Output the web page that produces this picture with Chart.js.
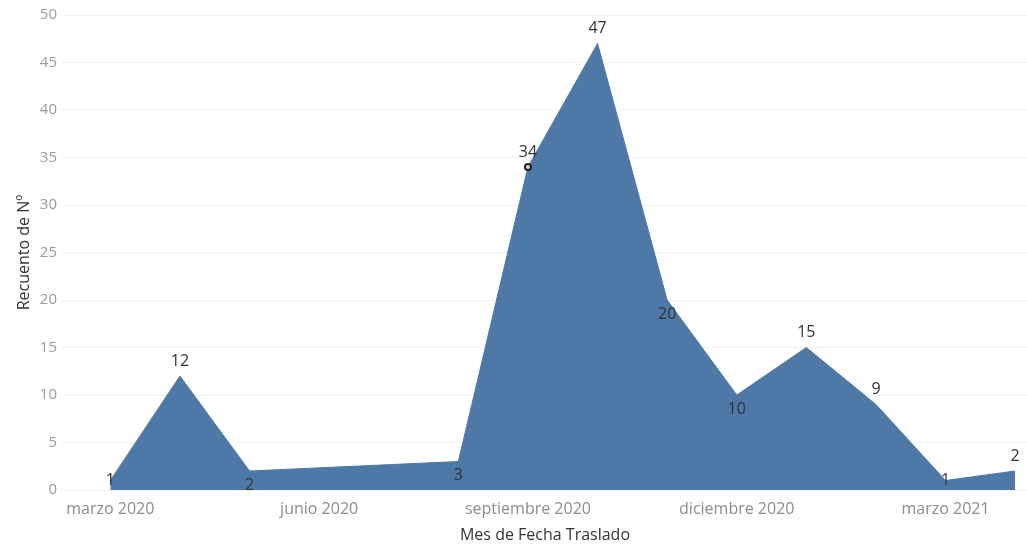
<!DOCTYPE html>
<html>
<head>
<meta charset="utf-8">
<script src="https://cdn.jsdelivr.net/npm/chart.js@4"></script>
<style>
  html, body { margin: 0; padding: 0; background: #fff; }
  #wrap { width: 1027px; height: 545px; }
</style>
</head>
<body>
<div id="wrap"><canvas id="myChart"></canvas></div>
<script>
const months = ['marzo 2020', 'abril 2020', 'mayo 2020', 'junio 2020', 'julio 2020', 'agosto 2020',
  'septiembre 2020', 'octubre 2020', 'noviembre 2020', 'diciembre 2020', 'enero 2021',
  'febrero 2021', 'marzo 2021', 'abril 2021'];
const counts = [1, 12, 2, null, null, 3, 34, 47, 20, 10, 15, 9, 1, 2];
const tickMonths = ['marzo 2020', 'junio 2020', 'septiembre 2020', 'diciembre 2020', 'marzo 2021'];
const yTicks = [0, 5, 10, 15, 20, 25, 30, 35, 40, 45, 50];
// where each value label sits: c = on the point, a = above, b = below
const labelPos = ['c', 'a', 'b', null, null, 'b', 'a', 'a', 'b', 'b', 'a', 'a', 'c', 'a'];

const FONT = "'Open Sans', 'DejaVu Sans', sans-serif";

const points = [];
const pos = [];
const radius = [];
months.forEach(function(m, i){
  if(counts[i] === null) return;
  points.push({x: i, y: counts[i]});
  pos.push(labelPos[i]);
  radius.push(m == 'septiembre 2020' ? 3 : 0);
});

const valueLabels = {
  id: 'valueLabels',
  afterDatasetsDraw: function(chart){
    const ctx = chart.ctx;
    const meta = chart.getDatasetMeta(0);
    ctx.save();
    ctx.font = '16px ' + FONT;
    ctx.fillStyle = '#333';
    ctx.textAlign = 'center';
    ctx.textBaseline = 'middle';
    meta.data.forEach(function(el, i){
      let dy = 0;
      if(pos[i] == 'a') dy = -15;
      if(pos[i] == 'b') dy = 14;
      ctx.fillText(String(points[i].y), el.x, el.y + dy);
    });
    ctx.restore();
  }
};

const ctx = document.getElementById('myChart').getContext('2d');
// eslint-disable-next-line no-undef
const chart = new Chart(ctx, {
  type: 'line',
  data: {
    datasets: [{
      label: 'Recuento de Nº',
      data: points,
      backgroundColor: '#4e78a6',
      borderColor: '#4e78a6',
      borderWidth: 1,
      fill: 'origin',
      tension: 0,
      pointRadius: radius,
      pointBackgroundColor: '#ddd',
      pointBorderColor: '#222',
      pointBorderWidth: 2,
    }]
  },
  options: {
    responsive: true,
    maintainAspectRatio: false,
    animation: false,
    layout: { padding: { left: 15, top: 15, right: 0, bottom: 0 } },
    plugins: {
      legend: { display: false },
      tooltip: { enabled: false },
    },
    scales: {
      x: {
        type: 'linear',
        min: -0.68,
        max: 13.17,
        grid: { display: false },
        border: { display: false },
        afterBuildTicks: function(scale){
          scale.ticks = tickMonths.map(function(m){ return {value: months.indexOf(m)}; });
        },
        afterFit: function(scale){ scale.height = 55; },
        ticks: {
          autoSkip: false,
          maxRotation: 0,
          padding: 2,
          color: '#8c8c8c',
          font: { family: FONT, size: 16 },
          callback: function(v){ return months[v]; },
        },
        title: {
          display: true,
          text: 'Mes de Fecha Traslado',
          color: '#333',
          font: { family: FONT, size: 16 },
          padding: { top: 2, bottom: 0 },
        },
      },
      y: {
        min: 0,
        max: 50,
        grid: { color: '#f1f1f1', drawTicks: false },
        border: { display: false },
        afterBuildTicks: function(scale){
          scale.ticks = yTicks.map(function(v){ return {value: v}; });
        },
        afterFit: function(scale){ scale.width = 48; },
        ticks: {
          padding: 6,
          color: '#9a9a9a',
          font: { family: FONT, size: 15 },
        },
        title: {
          display: true,
          text: 'Recuento de Nº',
          color: '#333',
          font: { family: FONT, size: 16 },
          padding: { top: 0, bottom: 0 },
        },
      }
    }
  },
  plugins: [valueLabels]
});
</script>
</body>
</html>
